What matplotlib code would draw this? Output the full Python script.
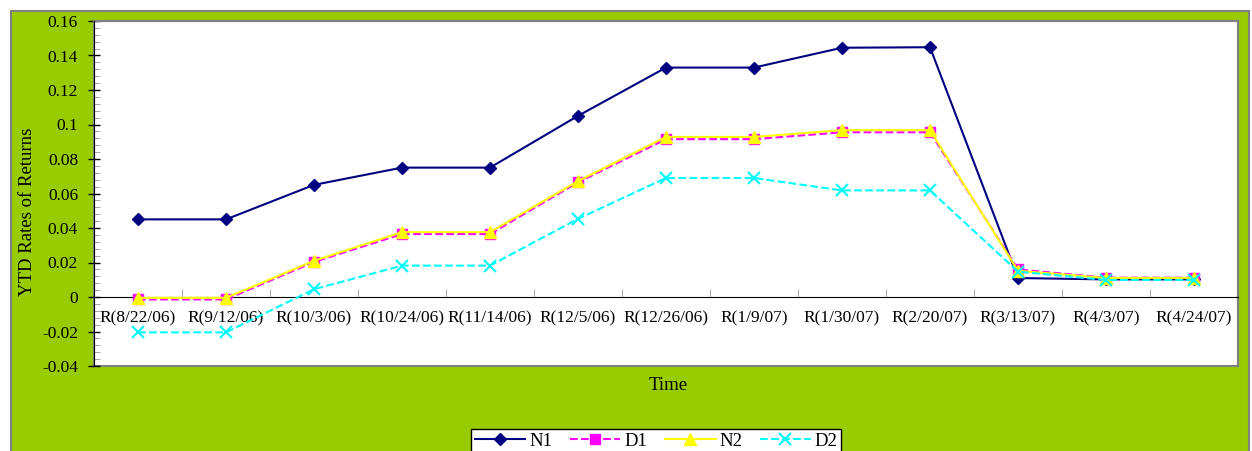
import numpy as np
import matplotlib.pyplot as plt
from matplotlib.patches import Rectangle
from matplotlib.ticker import MultipleLocator, FixedLocator

plt.rcParams['font.family'] = ['Liberation Serif', 'DejaVu Serif']
plt.rcParams['font.size'] = 12.5

dates = ["R(8/22/06)", "R(9/12/06)", "R(10/3/06)", "R(10/24/06)", "R(11/14/06)",
         "R(12/5/06)", "R(12/26/06)", "R(1/9/07)", "R(1/30/07)", "R(2/20/07)",
         "R(3/13/07)", "R(4/3/07)", "R(4/24/07)"]

n1 = [0.045, 0.045, 0.065, 0.075, 0.075, 0.105, 0.133, 0.133, 0.1445, 0.1448,
      0.011, 0.0102, 0.0102]
d1 = [-0.0014, -0.0014, 0.0203, 0.0365, 0.0365, 0.0665, 0.0915, 0.0915, 0.0955, 0.0955,
      0.016, 0.0112, 0.0112]
n2 = [-0.0005, -0.0005, 0.021, 0.0376, 0.0376, 0.0672, 0.0928, 0.0928, 0.0967, 0.0967,
      0.0152, 0.011, 0.011]
d2 = [-0.0205, -0.0205, 0.0045, 0.0182, 0.0182, 0.0453, 0.069, 0.069, 0.0618, 0.0618,
      0.0147, 0.0099, 0.0099]

W, H = 1252, 451
fig = plt.figure(figsize=(W / 100, H / 100), dpi=100, facecolor='white')

# green chart area with grey frame, behind the axes
fig.patches.append(Rectangle((11 / W, -0.05), (1249 - 11) / W, (H - 11) / H + 0.05,
                             transform=fig.transFigure, facecolor='#99CC00',
                             edgecolor='#808080', lw=1.5, zorder=-1))

ax = fig.add_axes([94 / W, (H - 366) / H, (1238 - 94) / W, (366 - 21) / H])
ax.set_facecolor('white')

x = np.arange(len(dates))
ax.plot(x, n1, color='#000080', lw=1.5, marker='D', ms=6.5, label='N1', zorder=3)
ax.plot(x, d1, color='#FF00FF', lw=1.5, ls='--', marker='s', ms=7.5, label='D1', zorder=3)
ax.plot(x, n2, color='#FFFF00', lw=1.5, marker='^', ms=8.5, label='N2', zorder=4)
ax.plot(x, d2, color='#00FFFF', lw=1.5, ls='--', marker='x', ms=8, mew=1.5, label='D2', zorder=5)

ax.set_xlim(-0.5, len(dates) - 0.5)
ax.set_ylim(-0.04, 0.16)

ax.yaxis.set_major_locator(MultipleLocator(0.02))
ax.yaxis.set_minor_locator(MultipleLocator(0.004))
ax.set_yticklabels([f"{v:g}" for v in ax.get_yticks()])
ax.tick_params(axis='y', which='major', direction='inout', length=9, width=1, pad=7)
ax.tick_params(axis='y', which='minor', direction='in', length=4, color='#999999')

ax.xaxis.set_major_locator(FixedLocator(x))
ax.set_xticklabels(dates)
ax.xaxis.set_minor_locator(FixedLocator(np.arange(len(dates) + 1) - 0.5))
ax.tick_params(axis='x', which='major', length=0, pad=10)
ax.tick_params(axis='x', which='minor', direction='in', length=6, color='#999999')

ax.spines['bottom'].set_position(('data', 0))
ax.spines['bottom'].set_color('black')
ax.spines['left'].set_color('black')
ax.spines['left'].set_zorder(6)
ax.spines['top'].set_color('#808080')
ax.spines['right'].set_color('#808080')
ax.spines['top'].set_linewidth(1.5)
ax.spines['right'].set_linewidth(1.5)
ax.add_patch(Rectangle((0, 0), 1, 1, transform=ax.transAxes, fill=False,
                       edgecolor='#808080', lw=1.5, zorder=1, clip_on=False))

ax.set_ylabel("YTD Rates of Returns", fontsize=13.5)
ax.yaxis.set_label_coords((36 - 94) / (1238 - 94), (366 - 211.5) / (366 - 21))
fig.text(668 / W, (H - 385) / H, "Time", ha='center', va='center', fontsize=13.5)

leg = fig.legend(loc='upper center', bbox_to_anchor=(656 / W, (H - 429) / H), ncol=4,
                 frameon=True, fancybox=False, edgecolor='black', framealpha=1,
                 handlelength=2.7, handletextpad=0.2, columnspacing=0.95,
                 borderpad=0.2, borderaxespad=0, fontsize=13.5)
leg.get_frame().set_linewidth(1)

fig.savefig("out.png", dpi=100, facecolor='white')
